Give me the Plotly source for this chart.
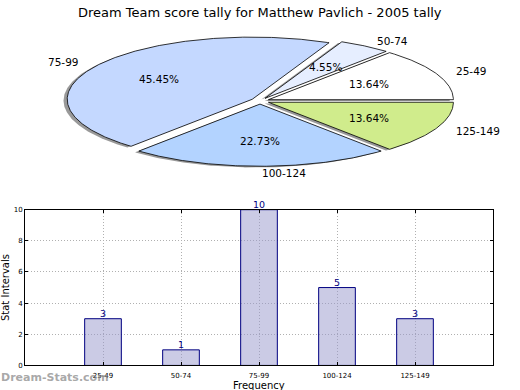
import numpy as np
import plotly.graph_objects as go

# ---- data ----
categories = ["25-49", "50-74", "75-99", "100-124", "125-149"]
counts = [3, 1, 10, 5, 3]
pie_colors = ["#ffffff", "#e6eeff", "#c4d8ff", "#b3d3ff", "#d0ec8c"]
y_ticks = [0, 2, 4, 6, 8, 10]
title_text = "Dream Team score tally for Matthew Pavlich - 2005 tally"

W, H = 520, 390
FONT = "DejaVu Sans"


def fx(px):  # window pixel x -> paper fraction
    return px / W


def fy(py):  # window pixel y -> paper fraction
    return 1 - py / H


# ---- pie geometry (elliptical, matplotlib-like) ----
cx_px, cy_px = 260, 99
rx_px, ry_px = 185, 63.5
pie_top_px, pie_bot_px = 0, 190
explode = 0.05
shadow_off = 0.02

fig = go.Figure()

vals = np.array(counts, dtype=float)
fracs = vals / vals.sum()
edges = np.concatenate([[0.0], np.cumsum(fracs)]) * 360.0

wedges = []
for i in range(len(vals)):
    t1, t2 = edges[i], edges[i + 1]
    tm = np.deg2rad((t1 + t2) / 2)
    ox, oy = explode * np.cos(tm), explode * np.sin(tm)
    th = np.deg2rad(np.linspace(t1, t2, max(int((t2 - t1) * 2), 4)))
    xs = np.concatenate([[ox], ox + np.cos(th), [ox]])
    ys = np.concatenate([[oy], oy + np.sin(th), [oy]])
    wedges.append((xs, ys, ox, oy, tm))

# shadows
for xs, ys, ox, oy, tm in wedges:
    fig.add_trace(go.Scatter(
        x=xs - shadow_off, y=ys - shadow_off, mode="lines", fill="toself",
        fillcolor="rgba(70,70,70,0.55)", line=dict(color="rgba(0,0,0,0)", width=0),
        hoverinfo="skip", showlegend=False, xaxis="x2", yaxis="y2"))
# wedges
for i, (xs, ys, ox, oy, tm) in enumerate(wedges):
    fig.add_trace(go.Scatter(
        x=xs, y=ys, mode="lines", fill="toself",
        fillcolor=pie_colors[i], line=dict(color="black", width=0.8),
        hoverinfo="skip", showlegend=False, xaxis="x2", yaxis="y2"))

annotations = []
for i, (xs, ys, ox, oy, tm) in enumerate(wedges):
    lx, ly = ox + 1.1 * np.cos(tm), oy + 1.1 * np.sin(tm)
    annotations.append(dict(
        x=lx, y=ly, xref="x2", yref="y2", text=categories[i], showarrow=False,
        xanchor="left" if lx > -1e-9 else "right", yanchor="middle",
        font=dict(family=FONT, size=10.5, color="black")))
    px_, py_ = ox + 0.6 * np.cos(tm), oy + 0.6 * np.sin(tm)
    annotations.append(dict(
        x=px_, y=py_, xref="x2", yref="y2", text="%.2f%%" % (fracs[i] * 100),
        showarrow=False, xanchor="center", yanchor="middle",
        font=dict(family=FONT, size=10.5, color="black")))

# ---- bar chart ----
positions = np.arange(1, len(categories) + 1)
fig.add_trace(go.Bar(
    x=positions, y=counts, width=0.47,
    marker=dict(color="rgba(152,152,204,0.5)", line=dict(color="#000080", width=1)),
    hoverinfo="skip", showlegend=False, xaxis="x", yaxis="y"))

for p, c in zip(positions, counts):
    annotations.append(dict(
        x=p, y=c, xref="x", yref="y", text=str(c), showarrow=False,
        xanchor="center", yanchor="bottom", yshift=-2,
        font=dict(family=FONT, size=9.5, color="#000080")))

grid_color = "#b0b0b0"
axis_common = dict(
    showgrid=True, gridcolor=grid_color, griddash="1px,2px", gridwidth=1,
    showline=True, linecolor="black", linewidth=1, mirror="allticks",
    ticks="inside", ticklen=3, tickcolor="black", zeroline=False,
    tickfont=dict(family=FONT, size=7, color="black"),
)

bar_left, bar_right, bar_top, bar_bot = 25, 493, 210, 369

annotations += [
    dict(x=fx(260), y=fy(9), xref="paper", yref="paper", text=title_text,
         showarrow=False, xanchor="center", yanchor="middle",
         font=dict(family=FONT, size=13, color="black")),
    dict(x=fx(259), y=fy(382), xref="paper", yref="paper", text="Frequency",
         showarrow=False, xanchor="center", yanchor="top",
         font=dict(family=FONT, size=10, color="black")),
    dict(x=fx(5), y=fy(290), xref="paper", yref="paper", text="Stat Intervals",
         showarrow=False, xanchor="center", yanchor="middle", textangle=-90,
         font=dict(family=FONT, size=10, color="black")),
    dict(x=fx(-1), y=fy(381), xref="paper", yref="paper", text="<b>Dream-Stats.com</b>",
         showarrow=False, xanchor="left", yanchor="middle",
         font=dict(family=FONT, size=11, color="rgba(130,130,130,0.7)")),
]

fig.update_layout(
    width=W, height=H, margin=dict(l=0, r=0, t=0, b=0),
    paper_bgcolor="white", plot_bgcolor="white",
    font=dict(family=FONT),
    xaxis=dict(domain=[fx(bar_left), fx(bar_right)], range=[0, len(categories) + 1],
               tickvals=positions, ticktext=categories, anchor="y",
               ticklabelstandoff=3, **axis_common),
    yaxis=dict(domain=[fy(bar_bot), fy(bar_top)], range=[0, max(y_ticks)],
               tickvals=y_ticks, anchor="x", **axis_common),
    xaxis2=dict(domain=[0, 1], range=[-cx_px / rx_px, (W - cx_px) / rx_px],
                visible=False, anchor="y2", fixedrange=True),
    yaxis2=dict(domain=[fy(pie_bot_px), fy(pie_top_px)],
                range=[-(pie_bot_px - cy_px) / ry_px, (cy_px - pie_top_px) / ry_px],
                visible=False, anchor="x2", fixedrange=True),
    annotations=annotations,
    showlegend=False,
)

fig.write_html(
    "out.html",
    config={"displayModeBar": False, "staticPlot": True},
    post_script="document.body.style.margin='0';document.body.style.overflow='hidden';",
)
